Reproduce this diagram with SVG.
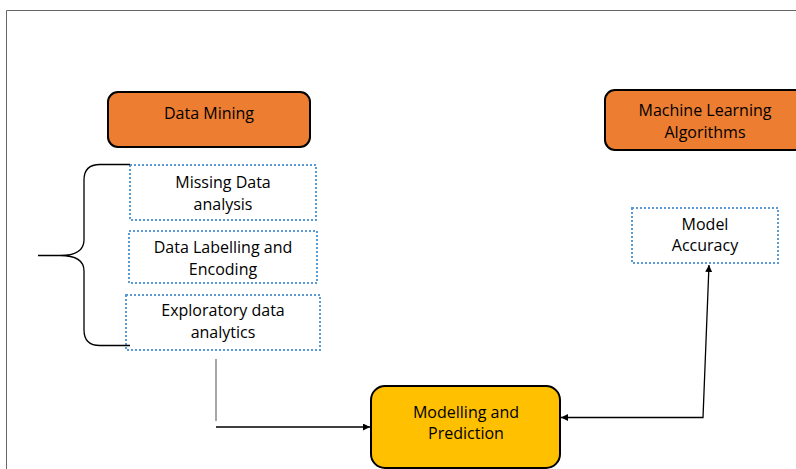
<svg xmlns="http://www.w3.org/2000/svg" width="796" height="469" viewBox="0 0 796 469">
<defs>
<style>
.t{font-family:"Open Sans","Liberation Sans",sans-serif;font-size:16px;fill:#000;text-anchor:middle}
.or{fill:#ED7D31;stroke:#000;stroke-width:2}
.ye{fill:#FFC000;stroke:#000;stroke-width:2}
.dot{fill:#fff;stroke:#5B9BD5;stroke-width:2;stroke-dasharray:2 2}
.c{fill:none;stroke:#000;stroke-width:1.3}
</style>
<marker id="ah" viewBox="0 0 10 10" refX="10" refY="5" markerWidth="7" markerHeight="7" orient="auto-start-reverse" markerUnits="userSpaceOnUse">
<path d="M0,0 L10,5 L0,10 z" fill="#000"/>
</marker>
</defs>
<rect x="0" y="0" width="796" height="469" fill="#fff"/>
<path d="M6.5,469 V10.5 H796" fill="none" stroke="#666" stroke-width="1"/>
<g id="data-mining">
<rect class="or" x="108" y="92" width="202" height="55" rx="10"/>
<text class="t" x="209" y="119">Data Mining</text>
</g>
<g id="ml-algorithms">
<rect class="or" x="605" y="90" width="210" height="60" rx="10"/>
<text class="t" x="705" y="116">Machine Learning</text>
<text class="t" x="705" y="138">Algorithms</text>
</g>
<g id="missing-data">
<rect class="dot" x="130" y="165" width="186" height="55"/>
<text class="t" x="223" y="188">Missing Data</text>
<text class="t" x="223" y="210">analysis</text>
</g>
<g id="data-labelling">
<rect class="dot" x="129" y="231" width="188" height="52"/>
<text class="t" x="223" y="253">Data Labelling and</text>
<text class="t" x="223" y="275">Encoding</text>
</g>
<g id="exploratory">
<rect class="dot" x="126" y="295" width="194" height="55"/>
<text class="t" x="223" y="316">Exploratory data</text>
<text class="t" x="223" y="338">analytics</text>
</g>
<g id="model-accuracy">
<rect class="dot" x="632" y="208" width="146" height="55"/>
<text class="t" x="705" y="230">Model</text>
<text class="t" x="705" y="251">Accuracy</text>
</g>
<g id="modelling">
<rect class="ye" x="371" y="386" width="189" height="82" rx="14"/>
<text class="t" x="466" y="418">Modelling and</text>
<text class="t" x="466" y="439">Prediction</text>
</g>
<g id="connectors">
<path class="c" d="M130,164.5 H100 Q84,164.5 84,180 V240 Q84,255.5 60,255.5 H38 M60,255.5 Q84,255.5 84,271 V330 Q84,345.5 100,345.5 H130"/>
<path d="M216,359 V421" fill="none" stroke="#777" stroke-width="1.3"/>
<path class="c" d="M216,427 H370" marker-end="url(#ah)"/>
<path class="c" d="M561,417.5 H703 L709,265" marker-start="url(#ah)" marker-end="url(#ah)"/>
</g>
</svg>
